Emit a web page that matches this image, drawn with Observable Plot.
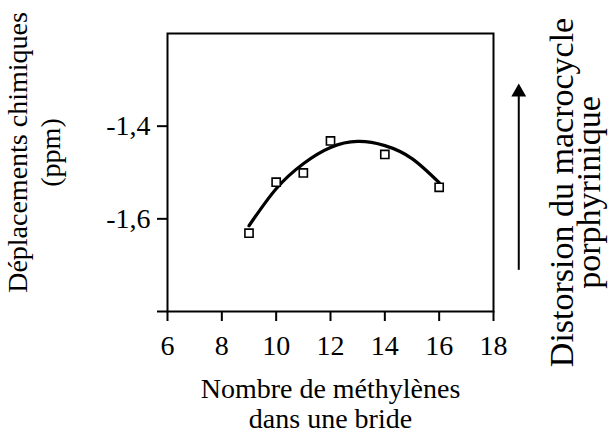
<!DOCTYPE html>
<html>
<head>
<meta charset="utf-8">
<script src="https://cdn.jsdelivr.net/npm/d3@7"></script>
<script src="https://cdn.jsdelivr.net/npm/@observablehq/plot@0.6"></script>
<style>
  html, body { margin: 0; padding: 0; background: #fff; }
  #chart { width: 611px; height: 444px; }
</style>
</head>
<body>
<div id="chart"></div>
<script>
// Measured points
const nMethylenes = [9, 10, 11, 12, 14, 16];
const shifts = [-1.631, -1.521, -1.501, -1.432, -1.461, -1.532];
// Fitted curve
const fitX = [9, 10, 11, 12, 13, 14, 15, 16];
const fitY = [-1.615, -1.535, -1.481, -1.446, -1.433, -1.442, -1.470, -1.522];
// Axes
const xTicks = [6, 8, 10, 12, 14, 16, 18];
const yTicks = [-1.8, -1.6, -1.4];
const yTickLabels = ["", "-1,6", "-1,4"];
const xLabel = "Nombre de méthylènes\ndans une bride";
const yLabel = "Déplacements chimiques\n(ppm)";
const rightLabel = "Distorsion du macrocycle\nporphyrinique";
// Arrow annotation (data units)
const arrowX = [18.93];
const arrowFrom = [-1.71];
const arrowTo = [-1.32];

const points = nMethylenes.map((x, i) => ({x, y: shifts[i]}));
const fit = fitX.map((x, i) => ({x, y: fitY[i]}));
const arrow = arrowX.map((x, i) => ({x, y1: arrowFrom[i], y2: arrowTo[i]}));

const font = "'Liberation Serif', 'Times New Roman', serif";

const chart = Plot.plot({
  width: 611,
  height: 444,
  marginLeft: 167,
  marginRight: 118,
  marginTop: 33,
  marginBottom: 133,
  style: {fontFamily: font, fontSize: "28px", color: "#000", background: "#fff"},
  x: {domain: [6, 18]},
  y: {domain: [-1.8, -1.2]},
  marks: [
    Plot.frame({stroke: "#000", strokeWidth: 2}),
    Plot.axisX({ticks: xTicks, tickSize: 10, tickPadding: 14, strokeWidth: 2, label: null, fontSize: 28, tickFormat: d => String(d)}),
    Plot.axisY({ticks: yTicks, tickSize: 10, tickPadding: 7, strokeWidth: 2, label: null, fontSize: 28,
      tickFormat: d => yTickLabels[yTicks.indexOf(d)]}),
    Plot.line(fit, {x: "x", y: "y", curve: "natural", stroke: "#000", strokeWidth: 3.2}),
    Plot.dot(points, {x: "x", y: "y", symbol: "square", r: 4.6, fill: "#fff", stroke: "#000", strokeWidth: 1.6}),
    Plot.link(arrow, {x1: "x", x2: "x", y1: "y1", y2: "y2", stroke: "#000", strokeWidth: 2, clip: false}),
    Plot.dot(arrow, {x: "x", y: "y2", symbol: "triangle", r: 5.5, fill: "#000", stroke: "none", dy: 3, clip: false}),
    Plot.text([xLabel], {frameAnchor: "bottom", lineAnchor: "top", textAnchor: "middle", dy: 65, fontSize: 28, lineHeight: 1.08, fill: "#000"}),
    Plot.text([yLabel], {frameAnchor: "left", rotate: -90, lineAnchor: "top", textAnchor: "middle", dx: -163, dy: -20, fontSize: 28, lineHeight: 1.15, fill: "#000"}),
    Plot.text([rightLabel], {frameAnchor: "right", rotate: -90, lineAnchor: "top", textAnchor: "middle", dx: 60, dy: 20, fontSize: 34, lineHeight: 0.8, fill: "#000"})
  ]
});
document.getElementById("chart").appendChild(chart);
</script>
</body>
</html>
